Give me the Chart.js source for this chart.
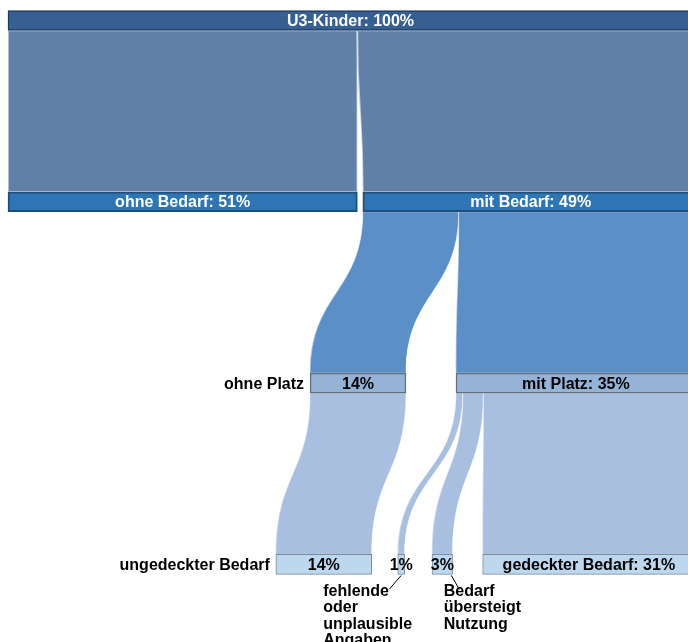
<!DOCTYPE html>
<html>
<head>
<meta charset="utf-8">
<script src="https://cdn.jsdelivr.net/npm/chart.js@4"></script>
<style>
  html, body { margin: 0; padding: 0; background: #fff; }
  #wrap { width: 688px; height: 642px; }
</style>
</head>
<body>
<div id="wrap"><canvas id="chart" width="688" height="642"></canvas></div>
<script>
// nodes of the flow chart (values in percent of all U3 children)
const nodeNames = ["U3-Kinder", "ohne Bedarf", "mit Bedarf", "ohne Platz", "mit Platz",
	"ungedeckter Bedarf", "fehlende oder unplausible Angaben", "Bedarf übersteigt Nutzung", "gedeckter Bedarf"];
const nodeLevels = [0, 1, 1, 2, 2, 3, 3, 3, 3];
const nodeValues = [100, 51, 49, 14, 35, 14, 1, 3, 31];
const nodeLabels = ["U3-Kinder: 100%", "ohne Bedarf: 51%", "mit Bedarf: 49%", "14%", "mit Platz: 35%",
	"14%", "1%", "3%", "gedeckter Bedarf: 31%"];

// links between nodes
const linkFrom = [0, 0, 2, 2, 3, 4, 4, 4];
const linkTo = [1, 2, 3, 4, 5, 6, 7, 8];
const linkValues = [51, 49, 14, 35, 14, 1, 3, 31];

// layout: left edge of each node in percent units
const nodeStart = [0, 0, 51.8, 44.1, 65.4, 39.1, 56.9, 61.9, 69.3];

const nodeFill = ["#366092", "#2e75b6", "#95b3d7", "#bdd7ee"];
const nodeBorder = ["#1f3a5c", "#1f4e79", "#65707c", "#7d8c9b"];
const nodeBorderW = [1.5, 2, 1.5, 1];
const nodeText = ["#fff", "#fff", "#000", "#000"];
const flowFill = ["#6080a8", "#5a8fc7", "#a8bfdf"];
const flowGap = [1.6, 0.8, 0.8];
const NODE_H = 20;
const FONT = 'bold 16px "Liberation Sans", Arial, sans-serif';

const flowPlugin = {
	id: "flows",
	beforeDatasetsDraw(chart) {
		const ctx = chart.ctx;
		const xs = chart.scales.x, ys = chart.scales.y;
		const outUsed = nodeValues.map(() => 0);
		const inUsed = nodeValues.map(() => 0);
		ctx.save();
		linkFrom.forEach((s, i) => {
			const t = linkTo[i];
			const v = linkValues[i];
			const sx0 = xs.getPixelForValue(nodeStart[s] + outUsed[s]);
			const sx1 = xs.getPixelForValue(nodeStart[s] + outUsed[s] + v);
			const tx0 = xs.getPixelForValue(nodeStart[t] + inUsed[t]);
			const tx1 = xs.getPixelForValue(nodeStart[t] + inUsed[t] + v);
			outUsed[s] += v;
			inUsed[t] += v;
			const y0 = ys.getPixelForValue(nodeLevels[s]) + NODE_H / 2;
			const y1 = ys.getPixelForValue(nodeLevels[t]) - NODE_H / 2;
			const ym = (y0 + y1) / 2;
			ctx.beginPath();
			ctx.moveTo(sx0, y0);
			ctx.bezierCurveTo(sx0, ym, tx0, ym, tx0, y1);
			ctx.lineTo(tx1, y1);
			ctx.bezierCurveTo(tx1, ym, sx1, ym, sx1, y0);
			ctx.closePath();
			ctx.fillStyle = flowFill[nodeLevels[s]];
			ctx.fill();
			ctx.strokeStyle = "rgba(255,255,255,0.6)";
			ctx.lineWidth = flowGap[nodeLevels[s]];
			ctx.stroke();
		});
		ctx.restore();
	},
	afterDatasetsDraw(chart) {
		const ctx = chart.ctx;
		const xs = chart.scales.x, ys = chart.scales.y;
		ctx.save();
		ctx.font = FONT;
		ctx.textBaseline = "middle";
		nodeValues.forEach((v, i) => {
			const lv = nodeLevels[i];
			const x0 = xs.getPixelForValue(nodeStart[i]);
			const x1 = xs.getPixelForValue(nodeStart[i] + v);
			const y = ys.getPixelForValue(lv) + 1;
			ctx.fillStyle = nodeText[lv];
			ctx.textAlign = "center";
			ctx.fillText(nodeLabels[i], (x0 + x1) / 2, y);
		});
		// names written beside the node
		ctx.fillStyle = "#000";
		ctx.textAlign = "right";
		[3, 5].forEach(i => {
			const x0 = xs.getPixelForValue(nodeStart[i]);
			ctx.fillText(nodeNames[i], x0 - 6, ys.getPixelForValue(nodeLevels[i]) + 1);
		});
		// names written below the small nodes, with leader lines
		ctx.textAlign = "left";
		ctx.strokeStyle = "#000";
		ctx.lineWidth = 1;
		const below = [
			{ i: 6, lines: ["fehlende", "oder", "unplausible", "Angaben"], sx: 0, ex: -12, tx: -78 },
			{ i: 7, lines: ["Bedarf", "übersteigt", "Nutzung"], sx: 9, ex: 17, tx: 1.5 }
		];
		below.forEach(b => {
			const x0 = xs.getPixelForValue(nodeStart[b.i]);
			const x1 = xs.getPixelForValue(nodeStart[b.i] + nodeValues[b.i]);
			const cx = (x0 + x1) / 2;
			const yb = ys.getPixelForValue(nodeLevels[b.i]) + NODE_H / 2;
			ctx.beginPath();
			ctx.moveTo(cx + b.sx, yb + 1);
			ctx.lineTo(cx + b.ex, yb + 15);
			ctx.stroke();
			b.lines.forEach((t, k) => {
				ctx.fillText(t, cx + b.tx, yb + 17 + k * 16.5);
			});
		});
		ctx.restore();
	}
};

new Chart(document.getElementById("chart").getContext("2d"), {
	type: "bar",
	data: {
		datasets: [{
			data: nodeValues.map((v, i) => ({ x: [nodeStart[i], nodeStart[i] + v], y: nodeLevels[i] })),
			backgroundColor: nodeLevels.map(l => nodeFill[l]),
			borderColor: nodeLevels.map(l => nodeBorder[l]),
			borderWidth: nodeLevels.map(l => nodeBorderW[l]),
			borderSkipped: false,
			barThickness: NODE_H
		}]
	},
	options: {
		indexAxis: "y",
		responsive: false,
		animation: false,
		layout: { padding: 0 },
		scales: {
			x: { type: "linear", min: -1.168, max: 99.27, display: false, offset: false },
			y: { type: "linear", min: -0.113, max: 3.428, reverse: true, display: false, offset: false }
		},
		plugins: { legend: { display: false }, tooltip: { enabled: false } }
	},
	plugins: [flowPlugin]
});
</script>
</body>
</html>
